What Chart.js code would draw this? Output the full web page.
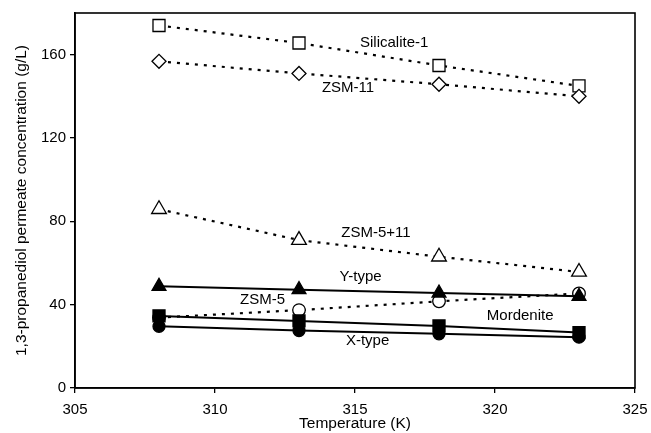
<!DOCTYPE html>
<html>
<head>
<meta charset="utf-8">
<script src="https://cdn.jsdelivr.net/npm/chart.js@4"></script>
<style>
html,body{margin:0;padding:0;background:#fff;}
#wrap{width:651px;height:433px;position:relative;}
</style>
</head>
<body>
<div id="wrap"><canvas id="c" width="651" height="433"></canvas></div>
<script>
// ---- data ----
const temperatures = [308, 313, 318, 323];
const silicalite1 = [174, 165.6, 154.8, 145];
const zsm11 = [156.8, 151, 145.8, 140];
const zsm5_11 = [85.8, 71, 63, 55.7];
const yType = [48.8, 47.2, 45.6, 44];
const zsm5 = [33.8, 37.4, 41.6, 45.4];
const mordenite = [34.6, 32.2, 29.8, 26.6];
const xType = [29.6, 27.6, 26, 24.4];
const xTicks = [305, 310, 315, 320, 325];
const yTicks = [0, 40, 80, 120, 160];
const seriesNames = ['Silicalite-1', 'ZSM-11', 'ZSM-5+11', 'Y-type', 'ZSM-5', 'Mordenite', 'X-type'];

// text label placements (in data coordinates)
const labelPlacements = [
  {text: 'Silicalite-1', x: 316.4, y: 165.6},
  {text: 'ZSM-11', x: 314.75, y: 144},
  {text: 'ZSM-5+11', x: 315.75, y: 74.4},
  {text: 'Y-type', x: 315.2, y: 53.3},
  {text: 'ZSM-5', x: 311.7, y: 42.2},
  {text: 'Mordenite', x: 320.9, y: 34.6},
  {text: 'X-type', x: 315.45, y: 22.6}
];

const FONT = '"Liberation Sans", Arial, sans-serif';
const pts = arr => temperatures.map((t, i) => ({x: t, y: arr[i]}));

function ds(label, values, style, dashed, filled, radius) {
  return {
    label: label,
    data: pts(values),
    borderColor: '#000',
    borderWidth: dashed ? 2.2 : 2,
    borderDash: dashed ? [3, 6] : [],
    pointStyle: style,
    pointRadius: radius,
    pointBorderWidth: 1.3,
    pointBorderColor: '#000',
    pointBackgroundColor: filled ? '#000' : '#fff',
    fill: false,
    tension: 0
  };
}

// first in array = drawn on top
const datasets = [
  ds(seriesNames[3], yType, 'triangle', false, true, 8),
  ds(seriesNames[5], mordenite, 'rect', false, true, 8.5),
  ds(seriesNames[6], xType, 'circle', false, true, 6),
  ds(seriesNames[4], zsm5, 'circle', true, false, 6.3),
  ds(seriesNames[2], zsm5_11, 'triangle', true, false, 8.5),
  ds(seriesNames[1], zsm11, 'rectRot', true, false, 7),
  ds(seriesNames[0], silicalite1, 'rect', true, false, 8.5)
];

const boxAndLabels = {
  id: 'boxAndLabels',
  beforeDatasetsDraw(chart) {
    const a = chart.chartArea, ctx = chart.ctx;
    ctx.save();
    ctx.strokeStyle = '#000';
    ctx.lineWidth = 1.6;
    ctx.strokeRect(a.left, a.top, a.right - a.left, a.bottom - a.top);
    ctx.restore();
  },
  afterDatasetsDraw(chart) {
    const ctx = chart.ctx, xs = chart.scales.x, ys = chart.scales.y;
    ctx.save();
    ctx.fillStyle = '#000';
    ctx.font = '15px ' + FONT;
    ctx.textAlign = 'center';
    ctx.textBaseline = 'middle';
    labelPlacements.forEach(l => {
      ctx.fillText(l.text, xs.getPixelForValue(l.x), ys.getPixelForValue(l.y));
    });
    ctx.restore();
  }
};

new Chart(document.getElementById('c'), {
  type: 'line',
  data: {datasets: datasets},
  options: {
    responsive: false,
    animation: false,
    events: [],
    layout: {padding: {top: 13, right: 16, left: 0, bottom: 0}},
    plugins: {legend: {display: false}, tooltip: {enabled: false}},
    scales: {
      x: {
        type: 'linear',
        min: 305, max: 325,
        afterBuildTicks: s => { s.ticks = xTicks.map(v => ({value: v})); },
        afterFit: s => { s.height = 45; s.paddingLeft = 0; s.paddingRight = 0; },
        grid: {display: true, drawOnChartArea: false, drawTicks: true, tickLength: 5, color: '#000', lineWidth: 1.3},
        border: {display: true, color: '#000', width: 1.6},
        ticks: {color: '#000', font: {family: FONT, size: 15}, padding: 8, maxRotation: 0},
        title: {display: true, text: 'Temperature (K)', color: '#000', font: {family: FONT, size: 15.5}, padding: {top: 0, bottom: 0}}
      },
      y: {
        type: 'linear',
        min: 0, max: 180,
        afterBuildTicks: s => { s.ticks = yTicks.map(v => ({value: v})); },
        afterFit: s => { s.width = 75; s.paddingTop = 0; s.paddingBottom = 0; },
        grid: {display: true, drawOnChartArea: false, drawTicks: true, tickLength: 5, color: '#000', lineWidth: 1.3},
        border: {display: true, color: '#000', width: 1.6},
        ticks: {color: '#000', font: {family: FONT, size: 15}, padding: 4},
        title: {display: true, text: '1,3-propanediol permeate concentration (g/L)', color: '#000', font: {family: FONT, size: 15.5}, padding: {top: 12, bottom: 0}}
      }
    }
  },
  plugins: [boxAndLabels]
});
</script>
</body>
</html>
